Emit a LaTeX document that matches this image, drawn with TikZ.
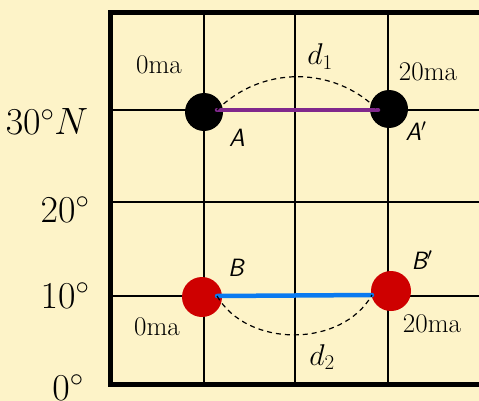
\RequirePackage{fix-cm}
\documentclass[tikz,border=0pt]{standalone}
\usepackage{xcolor}
\usepackage{tikz}
\definecolor{paper}{RGB}{253,243,200}
\definecolor{ridgepurple}{RGB}{128,40,140}
\definecolor{ridgeblue}{RGB}{10,122,240}
\definecolor{dotred}{RGB}{206,0,0}

\begin{document}
\begin{tikzpicture}[x=1pt, y=-1pt,
    gridline/.style={line width=2pt},
    border/.style={line width=5pt},
    lat/.style={anchor=base, font=\fontsize{38}{44}\selectfont},
    age/.style={anchor=base, font=\fontsize{27}{32}\selectfont},
    hand/.style={font=\fontsize{25}{30}\selectfont\sffamily\itshape},
    dist/.style={anchor=base, font=\fontsize{30}{36}\selectfont},
    dot/.style={circle, inner sep=0pt, minimum size=38pt},
    ridge/.style={line width=4.5pt, line cap=round},
    track/.style={dash pattern=on 5pt off 4pt, line width=1.2pt}]
  \useasboundingbox (0,0) rectangle (479,401);
  \fill[paper] (0,0) rectangle (479,401);
  \foreach \gx in {204,295,388}
    \draw[gridline] (\gx,13) -- (\gx,384);
  \foreach \gy in {110,202,296}
    \draw[gridline] (110,\gy) -- (485,\gy);
  \draw[border] (490,13) -- (110,13) -- (110,384) -- (490,384);
  \node[dot, fill=black] (A)  at (204,112) {};
  \node[dot, fill=black] (Ap) at (389,109) {};
  \node[dot, fill=dotred, minimum size=40pt] (B)  at (202,297) {};
  \node[dot, fill=dotred, minimum size=40pt] (Bp) at (391,291) {};
  \coordinate (a1) at (217,110);
  \coordinate (a2) at (378,110);
  \coordinate (b1) at (217,296);
  \coordinate (b2) at (372,295);
  \draw[ridge, ridgepurple] (a1) -- (a2);
  \draw[ridge, ridgeblue] (b1) -- (b2);
  \draw[track] (a1) to[bend left=45] (a2);
  \draw[track] (b1) to[bend right=60] (b2);
  \node[hand] (la)  at (237,138) {A};
  \node[hand] (lap) at (416,131) {A$'$};
  \node[hand] (lb)  at (236,268) {B};
  \node[hand] (lbp) at (422,260) {B$'$};
  \node[age] (t0a)  at (159,74)  {0ma};
  \node[age] (t20a) at (428,81)  {20ma};
  \node[age] (t0b)  at (157,335) {0ma};
  \node[age] (t20b) at (432,332) {20ma};
  \node[dist] (d1) at (320,65)  {$d_1$};
  \node[dist] (d2) at (322,365) {$d_2$};
  \node[lat] (l30) at (47,135) {$30^\circ N$};
  \node[lat] (l20) at (65,222) {$20^\circ$};
  \node[lat] (l10) at (65,308) {$10^\circ$};
  \node[lat] (l0)  at (68,400) {$0^\circ$};
\end{tikzpicture}
\end{document}
